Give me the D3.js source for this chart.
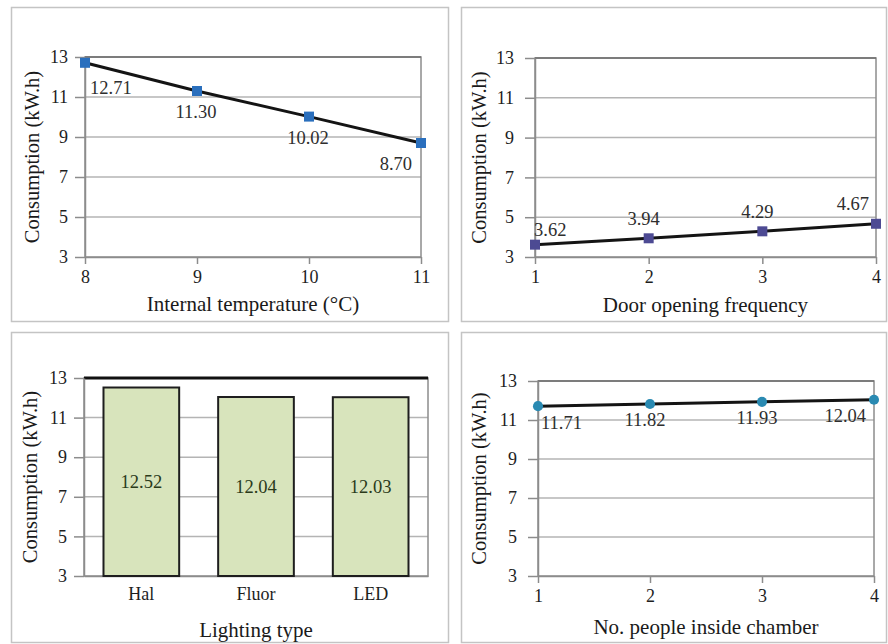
<!DOCTYPE html>
<html>
<head>
<meta charset="utf-8">
<script src="https://cdn.jsdelivr.net/npm/d3@7"></script>
<style>
  body { margin: 0; background: #fff; }
  svg { display: block; font-family: "Liberation Serif", "Times New Roman", serif; }
  .axis path, .axis line { stroke: #8c8c8c; stroke-width: 1.5; }
  .axis text { font-size: 18px; fill: #1e1e1e; font-family: "Liberation Serif", "Times New Roman", serif; }
</style>
</head>
<body>
<div id="viz"></div>
<script>
// Data
const yTicks = [3, 5, 7, 9, 11, 13];

const tempX = [8, 9, 10, 11];
const tempY = [12.71, 11.30, 10.02, 8.70];

const doorX = [1, 2, 3, 4];
const doorY = [3.62, 3.94, 4.29, 4.67];

const lightCats = ["Hal", "Fluor", "LED"];
const lightY = [12.52, 12.04, 12.03];

const peopleX = [1, 2, 3, 4];
const peopleY = [11.71, 11.82, 11.93, 12.04];

const width = 888;
const height = 644;

const svg = d3.select("#viz")
    .append("svg")
    .attr("width", width)
    .attr("height", height);

// Panel frames
const frames = [
    { x: 11, y: 7, w: 437, h: 314 },
    { x: 461, y: 7, w: 425, h: 314 },
    { x: 11, y: 332, w: 437, h: 310 },
    { x: 461, y: 332, w: 425, h: 310 }
];
svg.selectAll(".frame")
    .data(frames)
    .enter().append("rect")
    .attr("class", "frame")
    .attr("x", d => d.x + 0.5)
    .attr("y", d => d.y + 0.5)
    .attr("width", d => d.w)
    .attr("height", d => d.h)
    .attr("fill", "#fff")
    .attr("stroke", "#c4c4c4")
    .attr("stroke-width", 1.5);

// Shared frame of a plot: grid, y axis, titles
function plotBase(g, x0, x1, y, xTitle, titleY, yTitleX, topDark, pad) {
    g.append("g")
        .selectAll("line")
        .data(yTicks.slice(1, -1))
        .enter().append("line")
        .attr("x1", x0).attr("x2", x1)
        .attr("y1", d => y(d)).attr("y2", d => y(d))
        .attr("stroke", "#b4b4b4")
        .attr("stroke-width", 1.5);

    // plot area border
    g.append("rect")
        .attr("x", x0).attr("y", y(13))
        .attr("width", x1 - x0).attr("height", y(3) - y(13))
        .attr("fill", "none")
        .attr("stroke", "#8c8c8c")
        .attr("stroke-width", 1.5);

    g.append("line")
        .attr("x1", x0).attr("x2", x1)
        .attr("y1", y(13)).attr("y2", y(13))
        .attr("stroke", topDark ? "#111" : "#6e6e6e")
        .attr("stroke-width", topDark ? 3 : 1.5);

    g.append("g")
        .attr("class", "axis")
        .attr("transform", `translate(${x0},0)`)
        .call(d3.axisLeft(y).tickValues(yTicks).tickSize(10).tickPadding(pad).tickSizeOuter(0));

    g.append("text")
        .attr("transform", `translate(${yTitleX},${(y(3) + y(13)) / 2}) rotate(-90)`)
        .attr("text-anchor", "middle")
        .attr("dy", "0.35em")
        .attr("font-size", 20.5)
        .attr("fill", "#1a1a1a")
        .text("Consumption (kW.h)");

    g.append("text")
        .attr("x", (x0 + x1) / 2)
        .attr("y", titleY)
        .attr("text-anchor", "middle")
        .attr("dy", "0.35em")
        .attr("font-size", 21)
        .attr("fill", "#1a1a1a")
        .text(xTitle);
}

function linePanel(opts) {
    const g = svg.append("g");
    const x = d3.scaleLinear().domain(d3.extent(opts.xs)).range(opts.xr);
    const y = d3.scaleLinear().domain([3, 13]).range(opts.yr);
    plotBase(g, opts.xr[0], opts.xr[1], y, opts.title, opts.titleY, opts.yTitleX, false, opts.pad);

    g.append("g")
        .attr("class", "axis")
        .attr("transform", `translate(0,${opts.yr[0]})`)
        .call(d3.axisBottom(x).tickValues(opts.xs).tickFormat(d3.format("d")).tickSize(7).tickPadding(6).tickSizeOuter(0));

    const pts = opts.xs.map((v, i) => ({ x: v, y: opts.ys[i], i }));
    g.append("path")
        .datum(pts)
        .attr("fill", "none")
        .attr("stroke", "#141414")
        .attr("stroke-width", 3)
        .attr("d", d3.line().x(d => x(d.x)).y(d => y(d.y)));

    const sym = d3.symbol().type(opts.shape).size(opts.shape === d3.symbolCircle ? 80 : 100);
    g.selectAll(".pt")
        .data(pts)
        .enter().append("path")
        .attr("transform", d => `translate(${x(d.x)},${y(d.y)})`)
        .attr("d", sym)
        .attr("fill", opts.color);

    g.selectAll(".lbl")
        .data(pts)
        .enter().append("text")
        .attr("x", d => x(d.x) + opts.lx(d.i))
        .attr("y", d => y(d.y) + opts.ly(d.i))
        .attr("text-anchor", d => opts.anchor(d.i))
        .attr("dy", "0.35em")
        .attr("font-size", 18.5)
        .attr("fill", "#2e2e2e")
        .text(d => d.y.toFixed(2));
}

// Internal temperature
linePanel({
    xs: tempX, ys: tempY, xr: [85, 421], yr: [257, 57],
    title: "Internal temperature (\u00B0C)", titleY: 304, yTitleX: 32, pad: 7,
    shape: d3.symbolSquare, color: "#2a6fbd",
    lx: i => i === 0 ? 5 : (i === 3 ? -9 : -1),
    ly: i => i === 0 ? 25 : 21,
    anchor: i => i === 0 ? "start" : (i === 3 ? "end" : "middle")
});

// Door opening frequency
linePanel({
    xs: doorX, ys: doorY, xr: [535, 876], yr: [257, 58],
    title: "Door opening frequency", titleY: 305, yTitleX: 479, pad: 11,
    shape: d3.symbolSquare, color: "#4d4a93",
    lx: i => i === 0 ? -1 : (i === 3 ? -7 : -5),
    ly: i => i === 0 ? -15 : -20,
    anchor: i => i === 0 ? "start" : (i === 3 ? "end" : "middle")
});

// No. people inside chamber
linePanel({
    xs: peopleX, ys: peopleY, xr: [538, 874], yr: [576, 381],
    title: "No. people inside chamber", titleY: 627, yTitleX: 479, pad: 11,
    shape: d3.symbolCircle, color: "#2a8ab2",
    lx: i => i === 0 ? 3 : (i === 3 ? -8 : -5),
    ly: i => 16,
    anchor: i => i === 0 ? "start" : (i === 3 ? "end" : "middle")
});

// Lighting type (bars)
(function () {
    const g = svg.append("g");
    const x = d3.scaleBand().domain(lightCats).range([84, 428]).paddingInner(0.34).paddingOuter(0.17);
    const y = d3.scaleLinear().domain([3, 13]).range([576, 378]);
    plotBase(g, 84, 428, y, "Lighting type", 630, 30, true, 7);

    g.append("g")
        .attr("class", "axis")
        .attr("transform", "translate(0,576)")
        .call(d3.axisBottom(x).tickSize(0).tickPadding(11).tickSizeOuter(0));

    const data = lightCats.map((c, i) => ({ c, v: lightY[i] }));
    g.selectAll(".bar")
        .data(data)
        .enter().append("rect")
        .attr("x", d => x(d.c))
        .attr("y", d => y(d.v))
        .attr("width", x.bandwidth())
        .attr("height", d => y(3) - y(d.v))
        .attr("fill", "#d8e4bc")
        .attr("stroke", "#1e1e1e")
        .attr("stroke-width", 2);

    g.selectAll(".blbl")
        .data(data)
        .enter().append("text")
        .attr("x", d => x(d.c) + x.bandwidth() / 2)
        .attr("y", d => (y(d.v) + y(3)) / 2)
        .attr("text-anchor", "middle")
        .attr("dy", "0.35em")
        .attr("font-size", 18.5)
        .attr("fill", "#2a3a1a")
        .text(d => d.v.toFixed(2));
})();
</script>
</body>
</html>
